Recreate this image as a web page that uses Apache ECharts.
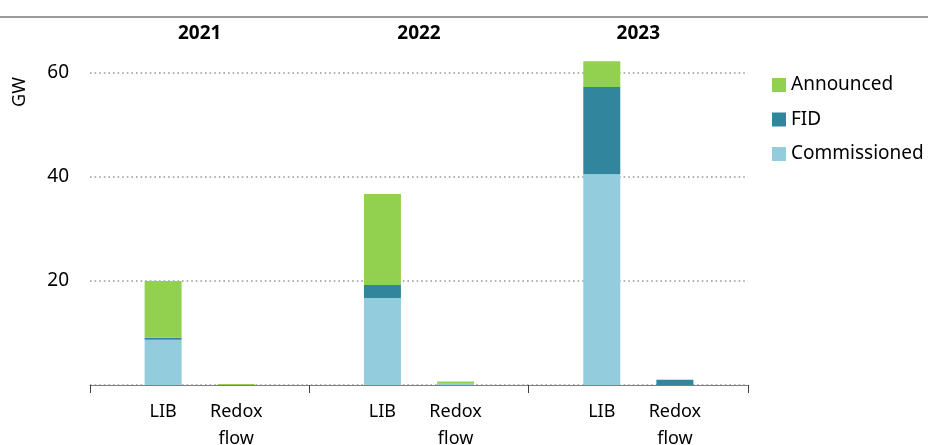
<!DOCTYPE html>
<html>
<head>
<meta charset="utf-8">
<script src="https://cdn.jsdelivr.net/npm/echarts@6/dist/echarts.min.js"></script>
<style>html,body{margin:0;padding:0;background:#fff}#c{width:928px;height:445px}</style>
</head>
<body>
<div id="c"></div>
<script>
var years = ['2021', '2022', '2023'];
var technologies = ['LIB', 'Redox\nflow'];
// order: 2021 LIB, 2021 Redox, 2022 LIB, 2022 Redox, 2023 LIB, 2023 Redox
var commissioned = [8.7, 0, 16.7, 0.4, 40.5, 0];
var fid = [0.4, 0, 2.5, 0, 16.75, 1.0];
var announced = [10.9, 0.2, 17.5, 0.25, 4.95, 0];
var yTicks = [0, 20, 40, 60];

// build slotted category axis: boundary, LIB, Redox, boundary, ...
var cats = [];
function slot(arr) {
  var out = [];
  for (var y = 0; y < years.length; y++) {
    out.push('-');
    for (var t = 0; t < technologies.length; t++) {
      var v = arr[y * technologies.length + t];
      out.push(v === 0 ? '-' : v);
    }
  }
  out.push('-');
  return out;
}
for (var y = 0; y < years.length; y++) {
  cats.push('');
  for (var t = 0; t < technologies.length; t++) cats.push(technologies[t]);
}
cats.push('');

var font = 'Noto Sans';
var chart = echarts.init(document.getElementById('c'));
var barW = 37;
chart.setOption({
  animation: false,
  textStyle: { fontFamily: font },
  grid: { left: 90, right: 180, top: 72.7, bottom: 60, containLabel: false, outerBoundsMode: 'none' },
  legend: {
    orient: 'vertical',
    left: 767,
    top: 70,
    itemWidth: 14,
    itemHeight: 14,
    itemGap: 14.5,
    icon: 'rect',
    data: ['Announced', 'FID', 'Commissioned'],
    textStyle: { fontSize: 19, color: '#000', fontFamily: font, lineHeight: 20 }
  },
  xAxis: [{
    type: 'category',
    data: cats,
    boundaryGap: false,
    axisLine: { lineStyle: { color: '#7f7f7f', width: 1 } },
    axisTick: { interval: function (i) { return i % 3 === 0; }, length: 8, lineStyle: { color: '#404040' } },
    axisLabel: { interval: 0, fontSize: 18, color: '#000', margin: 13, lineHeight: 27, fontFamily: font }
  }, {
    type: 'category',
    data: years,
    position: 'top',
    axisLine: { show: false },
    axisTick: { show: false },
    axisLabel: { fontSize: 19, fontWeight: 'bold', color: '#000', margin: 30, fontFamily: font }
  }],
  yAxis: {
    type: 'value',
    min: yTicks[0],
    max: yTicks[yTicks.length - 1],
    interval: 20,
    axisLine: { show: false },
    axisTick: { show: false },
    axisLabel: { fontSize: 19, color: '#000', margin: 21, fontFamily: font,
      formatter: function (v) { return v === 0 ? '' : v; } },
    splitLine: { lineStyle: { color: '#999', width: 1.6, type: [1.6, 3] } }
  },
  graphic: [
    { type: 'line', shape: { x1: 0, y1: 17, x2: 928, y2: 17 }, style: { stroke: '#9a9a9a', lineWidth: 2 } },
    { type: 'text', x: 20, y: 92, rotation: Math.PI / 2,
      style: { text: 'GW', fontSize: 18, fontFamily: font, fill: '#000', align: 'center', verticalAlign: 'middle' } }
  ],
  series: [
    { name: 'Commissioned', type: 'bar', stack: 's', barWidth: barW, clip: false,
      itemStyle: { color: '#93cddd' }, data: slot(commissioned) },
    { name: 'FID', type: 'bar', stack: 's', barWidth: barW, clip: false,
      itemStyle: { color: '#31859c' }, data: slot(fid) },
    { name: 'Announced', type: 'bar', stack: 's', barWidth: barW, clip: false,
      itemStyle: { color: '#92d050' }, data: slot(announced) }
  ]
});
</script>
</body>
</html>
